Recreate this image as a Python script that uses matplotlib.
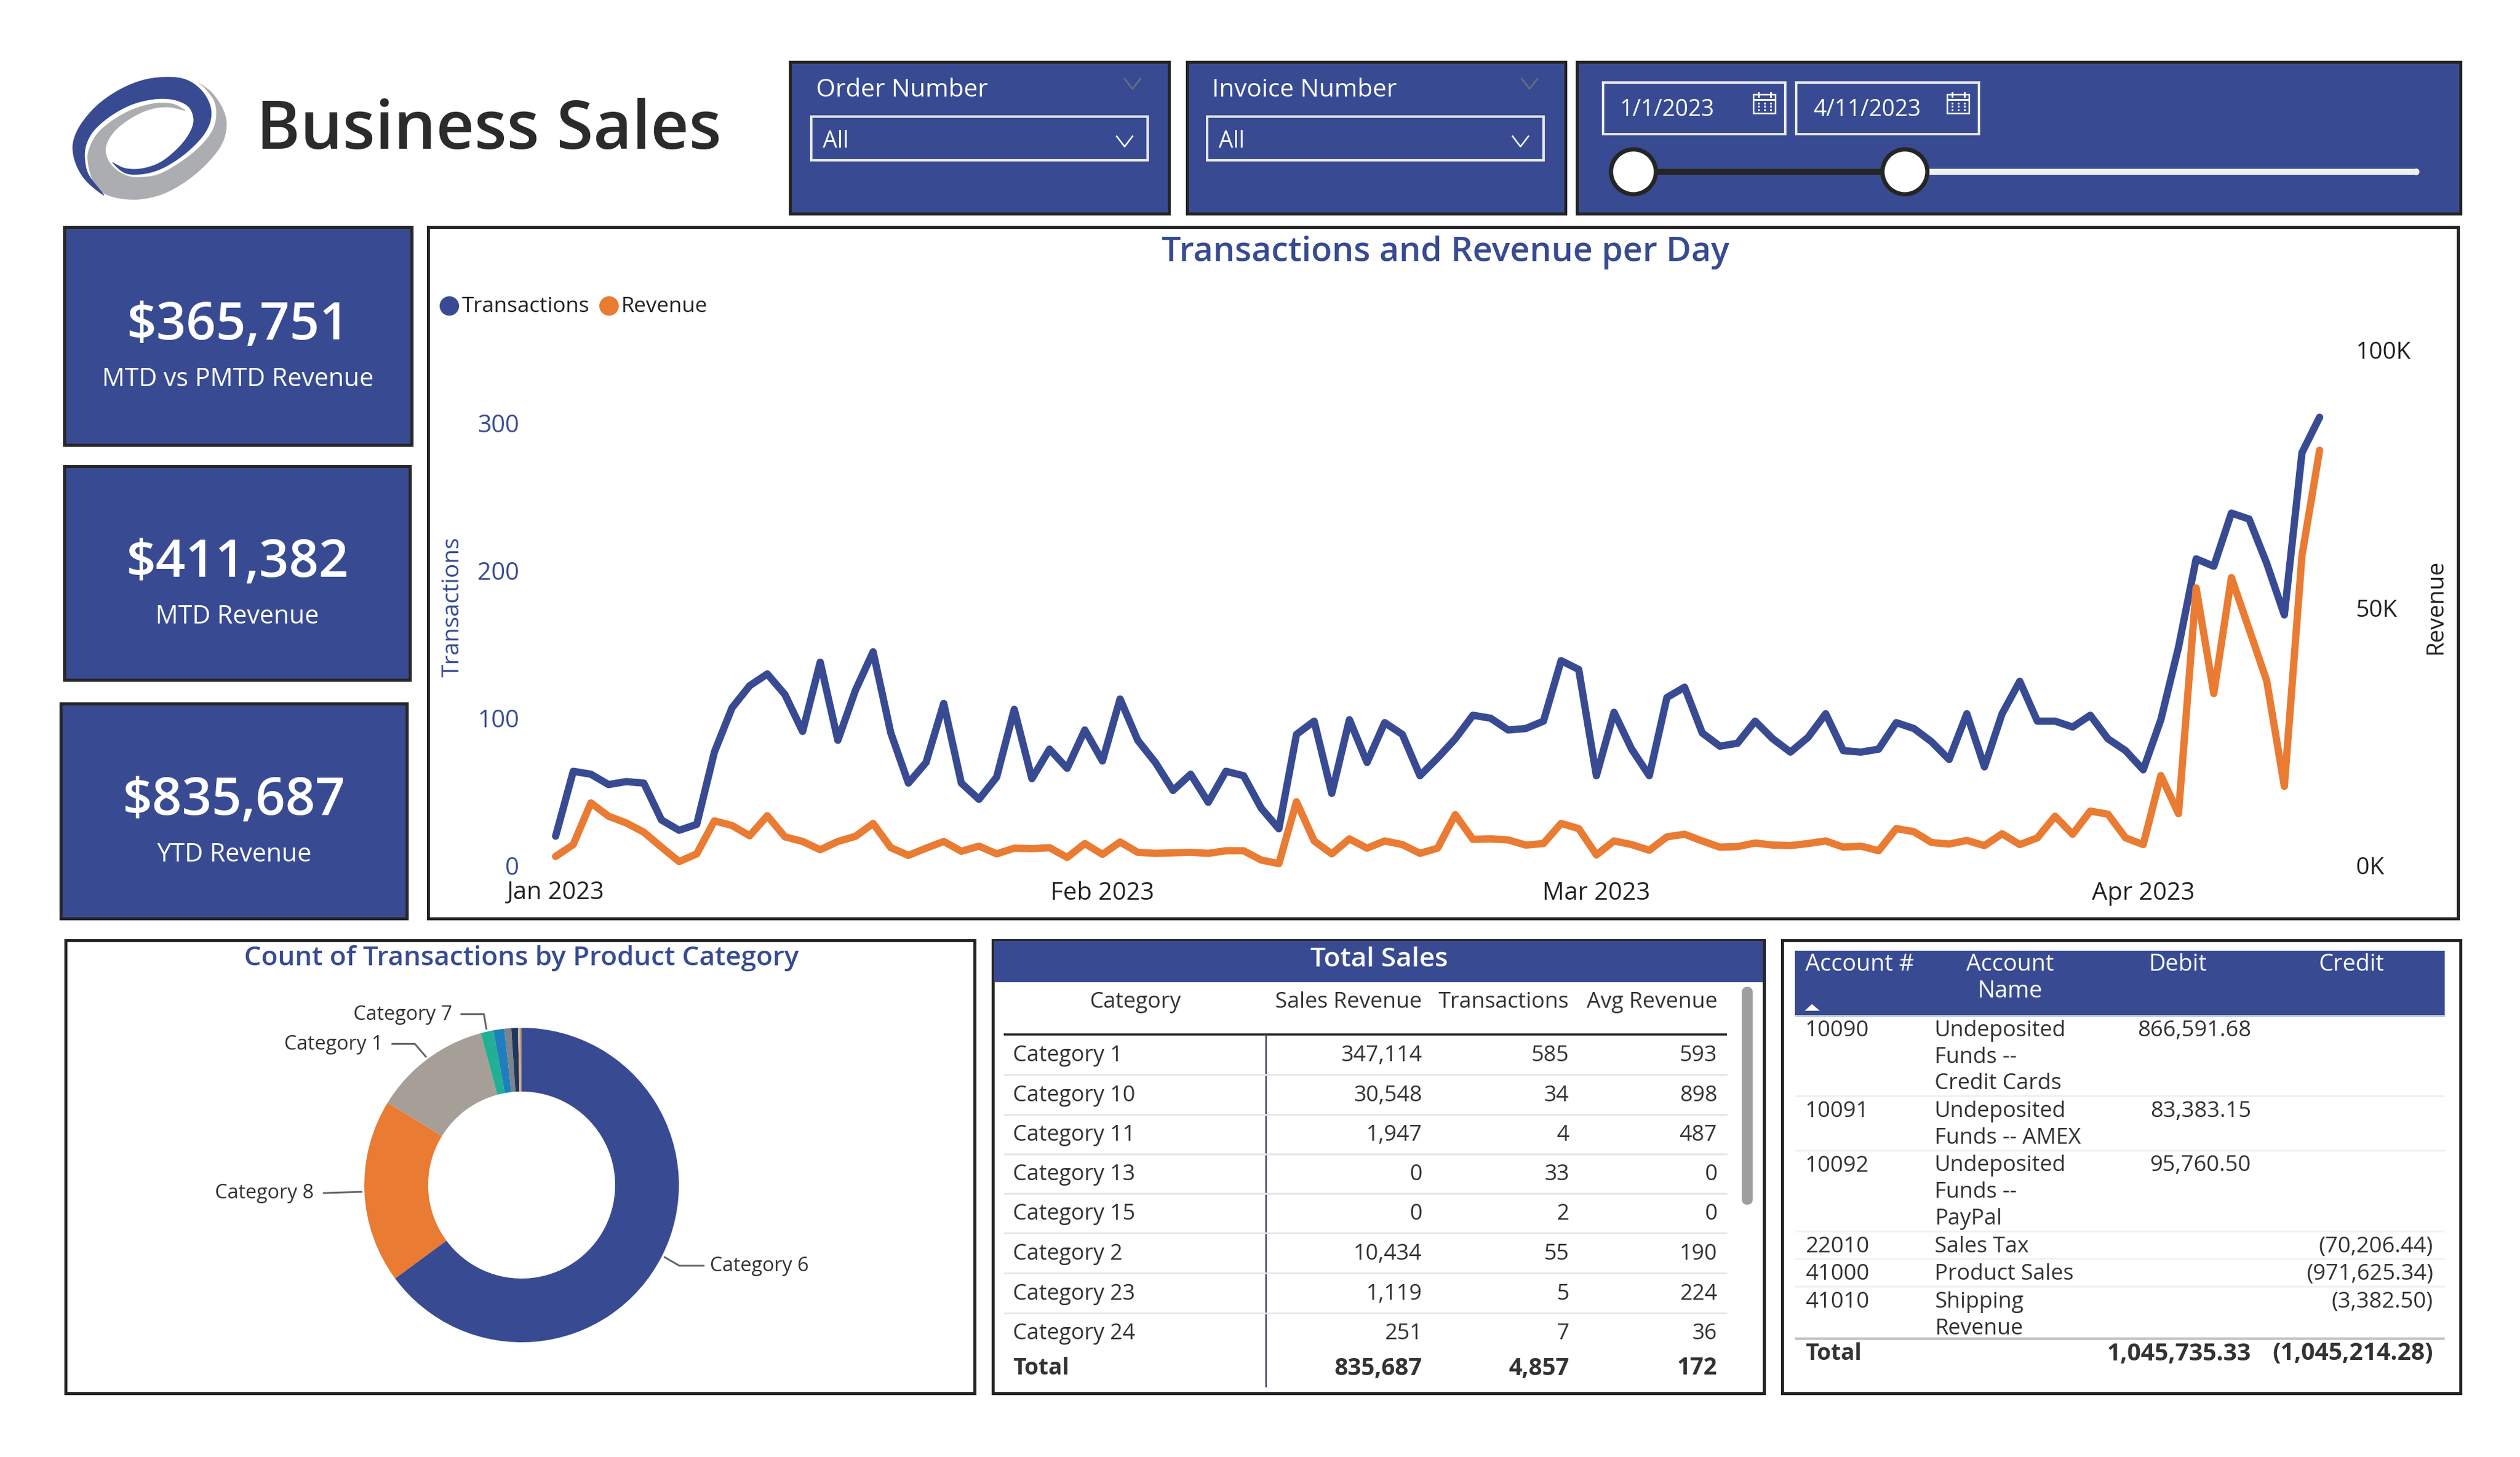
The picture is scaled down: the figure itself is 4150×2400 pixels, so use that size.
import numpy as np
import pandas as pd
import matplotlib
matplotlib.use('Agg')
import matplotlib.pyplot as plt
import matplotlib.dates as mdates
from matplotlib.patches import Rectangle, Circle, FancyBboxPatch, Polygon
from matplotlib.ticker import FuncFormatter

plt.rcParams['font.family'] = ['Open Sans', 'DejaVu Sans']

BLUE = '#384B92'
ORANGE = '#E97B33'
DARK = '#252525'
TEXT = '#333333'
PX = 0.72  # points per pixel at dpi 100

# daily series
transactions = [20, 64, 62, 55, 57, 56, 31, 24, 28, 77, 107, 122, 130, 116, 91, 138, 85, 119, 145, 90,
                56, 70, 110, 56, 45, 60, 106, 59, 79, 66, 92, 71, 113, 85, 70, 51, 62, 43, 64, 61,
                39, 25, 89, 98, 49, 99, 70, 97, 89, 61, 73, 86, 102, 100, 92, 93, 98, 139, 133, 61,
                104, 79, 61, 114, 121, 90, 81, 83, 98, 86, 77, 87, 103, 78, 77, 79, 97, 93, 84, 72,
                103, 67, 103, 125, 98, 98, 94, 102, 86, 78, 65, 99, 148, 208, 203, 239, 235, 205, 170, 280,
                304]
revenue = [1800, 4100, 12200, 9600, 8300, 6500, 3600, 800, 2300, 8700, 7800, 5800, 9700, 5600, 4700, 3100, 4700,
           5700, 8200, 3500, 2000, 3400, 4700, 2800, 3800, 2300, 3400, 3300, 3500, 1600, 4300, 2200, 4600, 2600,
           2400, 2500, 2600, 2400, 2900, 2900, 1100, 400, 12400, 4800, 2300, 5200, 3400, 4800, 4100, 2400, 3400,
           9900, 5100, 5200, 5000, 4000, 4300, 8200, 7200, 2100, 4800, 4100, 3000, 5600, 6100, 4800, 3600, 3700,
           4400, 4000, 3900, 4300, 4800, 3600, 3800, 2900, 7200, 6600, 4500, 4200, 4900, 3900, 6200, 4100, 5400,
           9600, 6100, 10600, 10000, 5400, 4100, 17500, 10100, 53900, 33400, 55900, 45900, 35900, 15400, 60200, 80600]
days = pd.date_range('2023-01-01', '2023-04-11')
month_ticks = pd.to_datetime(['2023-01-01', '2023-02-01', '2023-03-01', '2023-04-01'])
left_ticks = [0, 100, 200, 300]
right_ticks = [0, 50000, 100000]

# donut
pie_names = ['Category 6', 'Category 8', 'Category 1', 'Category 7', 'Category 2', 'Category 10', 'Category 13',
             'Category 24', 'Category 23', 'Category 11', 'Category 15']
pie_counts = [3151, 918, 585, 63, 55, 34, 33, 7, 5, 4, 2]
pie_colors = [BLUE, ORANGE, '#A69F97', '#21B094', '#1F7FBE', '#7C8389', '#22375E', '#D9B56A', '#8FA3B5', '#E97B33', '#6B5B95']
pie_labelled = ['Category 6', 'Category 8', 'Category 1', 'Category 7']

# kpis
kpi_values = ['$365,751', '$411,382', '$835,687']
kpi_names = ['MTD vs PMTD Revenue', 'MTD Revenue', 'YTD Revenue']

# total sales table
sales_cols = ['Sales Revenue', 'Transactions', 'Avg Revenue']
sales_names = ['Category 1', 'Category 10', 'Category 11', 'Category 13', 'Category 15', 'Category 2', 'Category 23', 'Category 24']
sales_rev = ['347,114', '30,548', '1,947', '0', '0', '10,434', '1,119', '251']
sales_tx = ['585', '34', '4', '33', '2', '55', '5', '7']
sales_avg = ['593', '898', '487', '0', '0', '190', '224', '36']
sales_total = ['835,687', '4,857', '172']

# account table
acct_nums = ['10090', '10091', '10092', '22010', '41000', '41010']
acct_names = [['Undeposited', 'Funds --', 'Credit Cards'], ['Undeposited', 'Funds -- AMEX'], ['Undeposited', 'Funds --', 'PayPal'],
              ['Sales Tax'], ['Product Sales'], ['Shipping', 'Revenue']]
acct_debit = ['866,591.68', '83,383.15', '95,760.50', '', '', '']
acct_credit = ['', '', '', '(70,206.44)', '(971,625.34)', '(3,382.50)']
acct_total = ['1,045,735.33', '(1,045,214.28)']

# logo outlines, traced in a 3x crop
logo_blue = [(200, 650), (120, 590), (70, 520), (45, 440), (50, 370), (90, 290), (170, 200), (280, 125), (400, 78),
             (520, 65), (610, 80), (680, 130), (722, 200), (728, 270), (700, 340), (640, 410), (560, 475), (470, 525),
             (380, 547), (300, 540), (240, 487), (300, 515), (380, 518), (470, 490), (550, 430), (610, 360), (640, 290),
             (628, 230), (590, 195), (520, 175), (430, 178), (330, 205), (230, 260), (150, 330), (112, 400), (105, 470),
             (125, 550)]
logo_gray = [(660, 90), (730, 140), (785, 220), (805, 300), (785, 390), (720, 480), (620, 570), (500, 640), (380, 670),
             (270, 665), (190, 635), (140, 570), (118, 480), (125, 420), (165, 345), (240, 280), (340, 225), (450, 195),
             (540, 198), (600, 232), (520, 215), (430, 225), (340, 265), (260, 325), (215, 390), (210, 450), (245, 510),
             (310, 552), (380, 560), (470, 545), (570, 490), (660, 420), (725, 345), (752, 270), (745, 190), (700, 125)]

fig = plt.figure(figsize=(41.5, 24), dpi=100)
bg = fig.add_axes([0, 0, 1, 1])
bg.set_xlim(0, 4150)
bg.set_ylim(2400, 0)
bg.axis('off')


def px_axes(x0, y0, x1, y1):
    return fig.add_axes([x0 / 4150, 1 - y1 / 2400, (x1 - x0) / 4150, (y1 - y0) / 2400])


def box(x0, y0, x1, y1, face='none', edge=DARK, lw=5):
    bg.add_patch(Rectangle((x0, y0), x1 - x0, y1 - y0, facecolor=face, edgecolor=edge, linewidth=lw * PX))


def txt(x, y, s, size, color=TEXT, ha='left', weight='normal', **kw):
    bg.text(x, y + 4, s, fontsize=size, color=color, ha=ha, va='center', fontweight=weight, **kw)


def hline(y, x0, x1, color, lw):
    bg.plot([x0, x1], [y, y], color=color, lw=lw * PX, solid_capstyle='butt')


def chevron(x, y, color, w=13, h=17):
    bg.plot([x - w, x, x + w], [y - h / 2, y + h / 2, y - h / 2], color=color, lw=2.5 * PX)


def smooth_logo(points):
    # closed catmull-rom through the traced points
    p = np.array(points, dtype=float)
    out = []
    for i in range(len(p)):
        a, b, c, d = p[i - 1], p[i], p[(i + 1) % len(p)], p[(i + 2) % len(p)]
        for t in np.linspace(0, 1, 8, endpoint=False):
            out.append(0.5 * (2 * b + (c - a) * t + (2 * a - 5 * b + 4 * c - d) * t ** 2 + (3 * b - a - 3 * c + d) * t ** 3))
    return 105 + np.array(out) / 3


# logo
bg.add_patch(Polygon(smooth_logo(logo_gray), facecolor='#ABADB0', edgecolor='none'))
bg.add_patch(Polygon(smooth_logo(logo_blue), facecolor=BLUE, edgecolor='none'))
txt(422, 212, 'Business Sales', 79, color='#2B2B2B', weight='semibold')

# slicers
for x0, x1, title in [(1301, 1925, 'Order Number'), (1955, 2578, 'Invoice Number')]:
    shift = 2 if x0 > 1500 else 0
    box(x0, 102, x1, 352, face=BLUE)
    txt(x0 + 43 - shift, 145, title, 29.5, color='white', weight='medium')
    chevron(x0 + 564, 138, '#6A6F80')
    box(x0 + 35 - shift, 192, x0 + 589 - shift, 264, edge='#E8E8E8', lw=4)
    txt(x0 + 54 - shift, 229, 'All', 27, color='white')
    chevron(x0 + 551 - shift, 233, 'white')
box(2597, 102, 4052, 352, face=BLUE)
for x0, x1, label in [(2640, 2940, '1/1/2023'), (2958, 3259, '4/11/2023')]:
    box(x0, 136, x1, 221, edge='#E8E8E8', lw=4)
    txt(x0 + 28, 177, label, 27, color='white')
    # calendar icon
    ix0, ix1 = x1 - 52, x1 - 16
    bg.add_patch(Rectangle((ix0, 156), ix1 - ix0, 31, facecolor='none', edgecolor='white', linewidth=2.5 * PX))
    hline(164, ix0, ix1, 'white', 3)
    for tx in [ix0 + 8, ix1 - 8]:
        bg.plot([tx, tx], [153, 159], color='white', lw=3 * PX)
    for gy in [170, 175, 181]:
        for gx in [ix0 + 8, ix0 + 18, ix0 + 28]:
            bg.add_patch(Rectangle((gx - 1.5, gy - 1.5), 3, 3, facecolor='white', edgecolor='none'))
hline(283, 3137, 3978, '#EFF3EF', 10)
bg.add_patch(Circle((3979, 283), 5.5, facecolor='#EFF3EF', edgecolor='none'))
hline(283, 2690, 3137, DARK, 10)
for hx in [2690, 3137]:
    bg.add_patch(Circle((hx, 283), 37, facecolor='white', edgecolor=DARK, linewidth=7 * PX, zorder=3))

# kpi cards
for (x0, y0, x1, y1), val, name in zip([(106, 374, 678, 733), (106, 768, 675, 1120), (100, 1159, 670, 1513)], kpi_values, kpi_names):
    box(x0, y0, x1, y1, face=BLUE)
    cx = (x0 + x1) / 2
    txt(cx, (y0 + y1) / 2 - 20, val, 62, color='white', ha='center', weight='semibold')
    txt(cx, (y0 + y1) / 2 + 68, name, 30, color='white', ha='center')

# line chart
box(705, 374, 4048, 1513)
txt(2380, 412, 'Transactions and Revenue per Day', 40.5, color=BLUE, ha='center', weight='semibold')
bg.add_patch(Circle((740, 504), 16, facecolor=BLUE, edgecolor='none'))
txt(761, 501, 'Transactions', 25.5, color='#222222')
bg.add_patch(Circle((1003, 504), 16, facecolor=ORANGE, edgecolor='none'))
txt(1023, 501, 'Revenue', 25.5, color='#222222')

ax = px_axes(915, 577, 3820, 1426)
ax.patch.set_alpha(0)
ax.plot(days, transactions, color=BLUE, lw=12 * PX, solid_capstyle='round', solid_joinstyle='round', clip_on=False, zorder=4)
ax.set_xlim(days[0], days[-1])
ax.set_ylim(0, 849 / 2.43)
ax.set_yticks(left_ticks)
ax.tick_params(axis='y', length=0, labelsize=29, labelcolor=BLUE, pad=43)
ax.set_xticks(month_ticks)
ax.xaxis.set_major_formatter(mdates.DateFormatter('%b %Y'))
ax.tick_params(axis='x', length=0, labelsize=29, labelcolor='#222222', pad=18)
ax.set_ylabel('Transactions', fontsize=28, color=BLUE)
ax.yaxis.set_label_coords(-150 / 2905, 426 / 849)
for s in ax.spines.values():
    s.set_visible(False)

ax2 = ax.twinx()
ax2.patch.set_alpha(0)
ax2.plot(days, revenue, color=ORANGE, lw=12 * PX, solid_capstyle='round', solid_joinstyle='round', clip_on=False, zorder=5)
ax2.set_ylim(0, 100000)
ax2.set_yticks(right_ticks)
ax2.yaxis.set_major_formatter(FuncFormatter(lambda v, p: '%dK' % (v / 1000)))
ax2.tick_params(axis='y', length=0, labelsize=28, labelcolor='#222222', pad=43)
ax2.set_ylabel('Revenue', fontsize=28, color='#222222')
ax2.yaxis.set_label_coords(1 + 172 / 2905, 426 / 849)
for s in ax2.spines.values():
    s.set_visible(False)

# donut
box(108, 1549, 1605, 2295)
txt(859, 1574, 'Count of Transactions by Product Category', 32, color=BLUE, ha='center', weight='semibold')
R = 259
cx, cy = 859, 1952
pie_ax = px_axes(cx - R, cy - R, cx + R, cy + R)
pie_ax.pie(pie_counts, colors=pie_colors, startangle=90, counterclock=False, radius=1,
           wedgeprops=dict(width=1 - 154 / 259, linewidth=0))
pie_ax.set_xlim(-1, 1)
pie_ax.set_ylim(-1, 1)
total = sum(pie_counts)
run = 0
for name, n in zip(pie_names, pie_counts):
    mid = (run + n / 2) / total * 2 * np.pi
    run += n
    if name not in pie_labelled:
        continue
    sx, sy = cx + (R + 5) * np.sin(mid), cy - (R + 5) * np.cos(mid)
    if np.sin(mid) > 0:
        ex, ey = sx + 24, sy + 14
        bg.plot([sx, ex, ex + 40], [sy, ey, ey], color='#666666', lw=3 * PX)
        txt(ex + 50, ey - 3, name, 23.5)
    elif np.cos(mid) > 0.2:
        ex = sx - (4 if np.cos(mid) > 0.9 else 18)
        ey = sy - (24 if np.cos(mid) > 0.9 else 21)
        bg.plot([sx, ex, ex - 37], [sy, ey, ey], color='#666666', lw=3 * PX)
        txt(ex - 52, ey - 3, name, 23.5, ha='right')
    else:
        bg.plot([sx, sx - 62], [sy, sy + 2], color='#666666', lw=3 * PX)
        txt(sx - 78, sy - 2, name, 23.5, ha='right')

# total sales
box(1635, 1549, 2905, 2295)
bg.add_patch(Rectangle((1637, 1550), 1266, 68, facecolor=BLUE, edgecolor='none'))
txt(2271, 1577, 'Total Sales', 32, color='white', ha='center', weight='semibold')
col_right = [2342, 2584, 2828]
txt(1870, 1647, 'Category', 26, ha='center')
for x, c in zip(col_right, sales_cols):
    txt(x, 1647, c, 26, ha='right')
hline(1704, 1653, 2844, DARK, 3.5)
bg.plot([2085, 2085], [1704, 2284], color='#3A3F58', lw=2.5 * PX)
row_y = [1735, 1801, 1866, 1931, 1996, 2062, 2128, 2193]
for y, nm, a, b, c in zip(row_y, sales_names, sales_rev, sales_tx, sales_avg):
    txt(1668, y, nm, 26)
    for x, v in zip(col_right, [a, b, c]):
        txt(x, y, v, 26, ha='right')
for y in row_y[:-1]:
    hline(y + 35, 1653, 2844, '#E6E6E6', 3)
txt(1668, 2250, 'Total', 27, weight='bold')
for x, v in zip(col_right, sales_total):
    txt(x, 2250, v, 28, ha='right', weight='bold')
bg.add_patch(FancyBboxPatch((2873, 1630), 9, 350, boxstyle='round,pad=0,rounding_size=4.5', facecolor='#A09D9D', edgecolor='#A09D9D', linewidth=9 * PX))

# accounts
box(2935, 1549, 4052, 2295)
bg.add_patch(Rectangle((2956, 1566), 1070, 106, facecolor=BLUE, edgecolor='none'))
hline(1673, 2956, 4026, '#C4C8D4', 3)
txt(3063, 1585, 'Account #', 27.5, color='white', ha='center', weight='medium')
txt(3310, 1585, 'Account', 27.5, color='white', ha='center', weight='medium')
txt(3310, 1629, 'Name', 27.5, color='white', ha='center', weight='medium')
txt(3586, 1585, 'Debit', 27.5, color='white', ha='center', weight='medium')
txt(3873, 1585, 'Credit', 27.5, color='white', ha='center', weight='medium')
bg.add_patch(Polygon([(2972, 1665), (2997, 1665), (2984, 1654)], facecolor='white', edgecolor='none'))
y = 1694
line_h = 43.7
for num, names, deb, cred in zip(acct_nums, acct_names, acct_debit, acct_credit):
    txt(2973, y, num, 26.5)
    txt(3707, y, deb, 26.5, ha='right')
    txt(4007, y, cred, 26.5, ha='right')
    for i, nm in enumerate(names):
        txt(3186, y + i * line_h, nm, 26)
    y += len(names) * line_h
    if num != acct_nums[-1]:
        hline(y - 20, 2956, 4026, '#F0F0F0', 3)
        y += 2
hline(2205, 2956, 4026, '#C0C0C0', 4)
txt(2973, 2226, 'Total', 27, weight='bold')
txt(3707, 2226, acct_total[0], 28.5, ha='right', weight='bold')
txt(4007, 2226, acct_total[1], 28.5, ha='right', weight='bold')

fig.savefig('out.png', dpi=100)
